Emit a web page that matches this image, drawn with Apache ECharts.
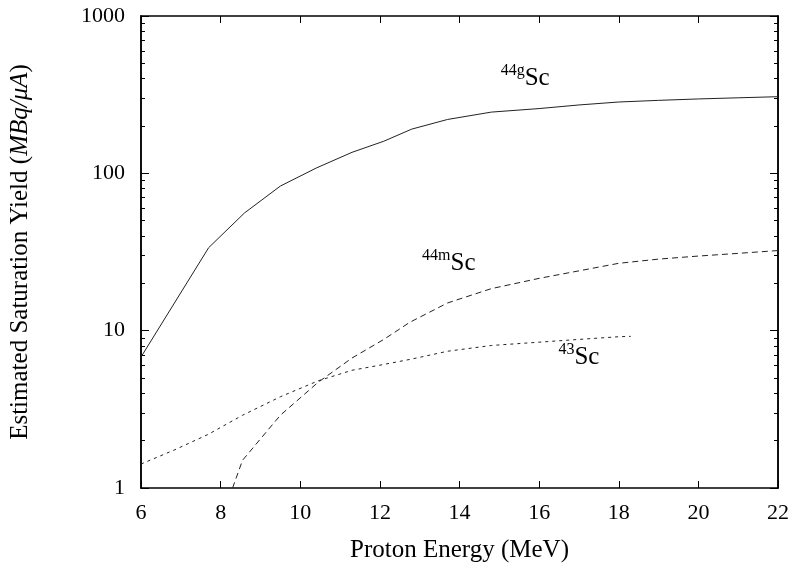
<!DOCTYPE html>
<html>
<head>
<meta charset="utf-8">
<script src="https://cdn.jsdelivr.net/npm/echarts@6/dist/echarts.min.js"></script>
<style>html,body{margin:0;padding:0;background:#fff}#c{width:800px;height:571px}</style>
</head>
<body>
<div id="c"></div>
<script>
// Data (Proton Energy in MeV, yield in MBq/uA)
var energy44g = [6, 7.7, 8.6, 9.5, 10.4, 11.3, 12.1, 12.8, 13.7, 14.8, 16, 17, 18, 19, 20, 21, 22];
var yield44g  = [6.8, 33.7, 56, 83, 108, 136, 160, 191, 220, 245, 258, 272, 284, 291, 297, 302, 307];

var energy44m = [8.3, 8.55, 9.5, 10.45, 11.3, 12.1, 12.75, 13.7, 14.8, 16, 17, 18, 19, 20, 21, 22];
var yield44m  = [1.0, 1.5, 2.9, 4.7, 6.7, 8.8, 11.3, 15, 18.5, 21.5, 24, 26.8, 28.5, 29.8, 31, 32.3];

var energy43 = [6, 6.85, 7.7, 8.55, 9.5, 10.45, 11.3, 12.1, 12.8, 13.7, 14.8, 16, 17, 18, 18.3];
var yield43  = [1.42, 1.75, 2.2, 2.9, 3.8, 4.8, 5.6, 6.1, 6.6, 7.4, 8.05, 8.45, 8.8, 9.15, 9.2];

var xTicks = [6, 8, 10, 12, 14, 16, 18, 20, 22];
var yMajor = [1, 10, 100, 1000];
var yMinor = [2,3,4,5,6,7,8,9,20,30,40,50,60,70,80,90,200,300,400,500,600,700,800,900];

// label anchors (data space)
var label44g = [15.65, 410];
var label44m = [13.73, 27.3];
var label43  = [17.0, 6.9];

function zip(a, b) { return a.map(function (v, i) { return [v, b[i]]; }); }

var FONT = 'Liberation Serif';
var chart = echarts.init(document.getElementById('c'), null, {renderer: 'canvas'});

var richLbl = {
  sup: {fontFamily: FONT, fontSize: 16, color: '#000', verticalAlign: 'top', lineHeight: 28},
  b: {fontFamily: FONT, fontSize: 25, color: '#000', verticalAlign: 'bottom', lineHeight: 28}
};
function annot(coord, sup) {
  return {
    symbol: 'circle', symbolSize: 1, silent: true,
    itemStyle: {color: 'rgba(0,0,0,0)'},
    label: {show: true, position: 'inside', formatter: '{sup|' + sup + '}{b|Sc}', rich: richLbl},
    data: [{coord: coord, value: sup}]
  };
}

var axisLineStyle = {color: '#000', width: 1.5};
function yAx(pos, ticks, len, labels) {
  return {
    type: 'log', logBase: 10, min: 1, max: 1000, position: pos,
    axisLine: {show: true, onZero: false, lineStyle: axisLineStyle},
    axisTick: {show: true, inside: true, length: len, customValues: ticks, lineStyle: {color: '#000', width: 1}},
    axisLabel: labels ? {show: true, customValues: yMajor, margin: 16, fontFamily: FONT, fontSize: 22, color: '#000',
      formatter: function (v) { return String(Math.round(v)); }} : {show: false},
    splitLine: {show: false}
  };
}

var option = {
  animation: false,
  backgroundColor: '#fff',
  grid: {left: 138, right: 22, top: 16, bottom: 83, containLabel: false},
  xAxis: [
    {
      type: 'value', min: 6, max: 22, interval: 2, position: 'bottom',
      name: 'Proton Energy (MeV)', nameLocation: 'middle', nameGap: 50,
      nameTextStyle: {fontFamily: FONT, fontSize: 25, color: '#000'},
      axisLine: {show: true, onZero: false, lineStyle: axisLineStyle},
      axisTick: {show: true, inside: true, length: 7, lineStyle: {color: '#000', width: 1}},
      axisLabel: {margin: 14, fontFamily: FONT, fontSize: 22, color: '#000'},
      splitLine: {show: false}
    },
    {
      type: 'value', min: 6, max: 22, interval: 2, position: 'top',
      axisLine: {show: true, onZero: false, lineStyle: axisLineStyle},
      axisTick: {show: true, inside: true, length: 7, lineStyle: {color: '#000', width: 1}},
      axisLabel: {show: false},
      splitLine: {show: false}
    }
  ],
  yAxis: [
    Object.assign(yAx('left', yMajor, 8, true), {
      name: '{n|Estimated Saturation Yield (}{i|MBq/μA}{n|)}',
      nameLocation: 'middle', nameGap: 108, nameRotate: 90,
      nameTextStyle: {fontFamily: FONT, fontSize: 25, color: '#000',
        rich: {n: {fontFamily: FONT, fontSize: 25, color: '#000'},
               i: {fontFamily: FONT, fontSize: 25, color: '#000', fontStyle: 'italic'}}}
    }),
    yAx('left', yMinor, 4, false),
    yAx('right', yMajor, 8, false),
    yAx('right', yMinor, 4, false)
  ],
  series: [
    {
      name: '44gSc', type: 'line', xAxisIndex: 0, yAxisIndex: 0, data: zip(energy44g, yield44g),
      showSymbol: false, symbol: 'none', clip: true,
      lineStyle: {color: '#222', width: 1, type: 'solid'},
      markPoint: annot(label44g, '44g')
    },
    {
      name: '44mSc', type: 'line', xAxisIndex: 0, yAxisIndex: 0, data: zip(energy44m, yield44m),
      showSymbol: false, symbol: 'none', clip: true,
      lineStyle: {color: '#222', width: 1, type: [6, 4]},
      markPoint: annot(label44m, '44m')
    },
    {
      name: '43Sc', type: 'line', xAxisIndex: 0, yAxisIndex: 0, data: zip(energy43, yield43),
      showSymbol: false, symbol: 'none', clip: true,
      lineStyle: {color: '#222', width: 1, type: [3, 4]},
      markPoint: annot(label43, '43')
    }
  ]
};
chart.setOption(option);
</script>
</body>
</html>
